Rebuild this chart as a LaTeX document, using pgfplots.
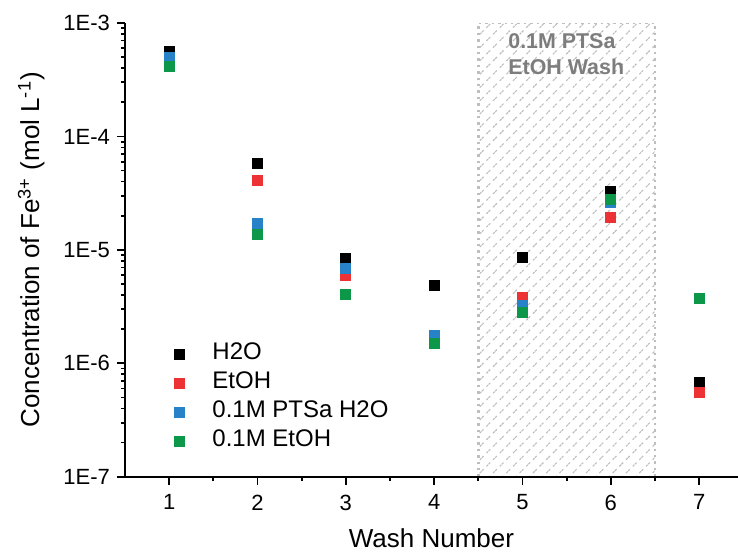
\documentclass[border=0pt]{standalone}
\usepackage{pgfplots}
\pgfplotsset{compat=1.18}
\usepackage{fontspec}
\setmainfont{Liberation Sans}
\usetikzlibrary{patterns.meta}
\definecolor{cred}{RGB}{236,50,52}
\definecolor{cblue}{RGB}{40,130,200}
\definecolor{cgreen}{RGB}{12,152,72}
\definecolor{hatch}{RGB}{190,190,190}
\definecolor{boxtext}{RGB}{125,125,125}
\begin{document}
\begin{tikzpicture}
\begin{axis}[
  scale only axis, width=306.5pt, height=226.85pt,
  ymode=log, xmin=0.5, xmax=7.44, ymin=1e-7, ymax=1e-3,
  axis x line*=bottom, axis y line*=left,
  axis line style={line width=0.9pt, black},
  axis on top,
  tick align=outside,
  major tick length=4pt, minor tick length=2pt,
  every tick/.style={line width=0.9pt, black},
  xtick={1,2,3,4,5,6,7},
  minor xtick={1.5,2.5,3.5,4.5,5.5,6.5},
  ytick={1e-7,1e-6,1e-5,1e-4,1e-3},
  yticklabels={1E-7,1E-6,1E-5,1E-4,1E-3},
  /pgf/number format/assume math mode=true,
  ticklabel style={font=\fontsize{11}{13}\selectfont},
  xticklabel style={yshift=-1.5pt},
  xlabel={Wash Number},
  ylabel={Concentration of Fe\textsuperscript{3+} (mol L\textsuperscript{-1})},
  label style={font=\fontsize{13}{15}\selectfont},
  xlabel style={at={(axis description cs:0.5,-0.157)}, anchor=base},
  ylabel style={at={(axis description cs:-0.153,0.5)}, anchor=center},
  legend style={draw=none, fill=none, at={(0.05,0.31)}, anchor=north west,
    font=\fontsize{12}{14}\selectfont, row sep=0.9pt,
    nodes={inner sep=1pt, text height=8.6pt, text depth=3pt}},
  legend cell align=left,
  legend image code/.code={\path[draw=none] (0cm,0cm) -- (0.85cm,0cm); \draw[#1, only marks] plot coordinates {(0.3cm,0cm)};},
]
\addplot[forget plot, draw=hatch, dotted, line width=1.2pt,
  pattern={Lines[angle=45,distance=4.7pt,line width=0.55pt]}, pattern color=hatch]
  coordinates {(4.5,1e-7) (4.5,1e-3) (6.5,1e-3) (6.5,1e-7)} -- cycle;

\addplot[only marks, mark=square*, mark size=2.5pt, color=black] coordinates {
 (1,5.58e-4) (2,5.8e-5) (3,8.35e-6) (4,4.9e-6) (5,8.5e-6) (6,3.25e-5) (7,6.73e-7)};
\addlegendentry{H2O}
\addplot[only marks, mark=square*, mark size=2.5pt, color=cred] coordinates {
 (1,4.9e-4) (2,4.07e-5) (3,6.0e-6) (4,1.65e-6) (5,3.81e-6) (6,1.93e-5) (7,5.57e-7)};
\addlegendentry{EtOH}
\addplot[only marks, mark=square*, mark size=2.5pt, color=cblue] coordinates {
 (1,4.97e-4) (2,1.71e-5) (3,6.87e-6) (4,1.76e-6) (5,3.26e-6) (6,2.6e-5) (7,3.7e-6)};
\addlegendentry{0.1M PTSa H2O}
\addplot[only marks, mark=square*, mark size=2.5pt, color=cgreen] coordinates {
 (1,4.12e-4) (2,1.37e-5) (3,4.07e-6) (4,1.5e-6) (5,2.79e-6) (6,2.79e-5) (7,3.7e-6)};
\addlegendentry{0.1M EtOH}

\node[anchor=north west, align=left, inner sep=0pt, text=boxtext,
  font=\bfseries\fontsize{10.7}{13.3}\selectfont] at (axis cs:4.836,8.2e-4) {0.1M PTSa\\EtOH Wash};
\coordinate (o) at (rel axis cs:0,0);
\end{axis}
\pgfresetboundingbox
\path (o) ++(-62.5pt,-38.65pt) rectangle ++(369pt,277pt);
\end{tikzpicture}
\end{document}
